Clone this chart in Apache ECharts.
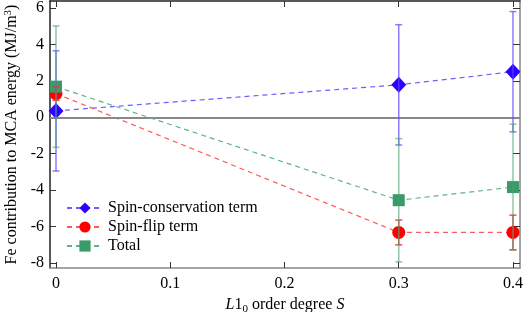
<!DOCTYPE html>
<html><head><meta charset="utf-8">
<script src="https://cdn.jsdelivr.net/npm/echarts@6/dist/echarts.min.js"></script>
<style>html,body{margin:0;padding:0;background:#fff}#c{width:523px;height:312px}</style>
</head><body><div id="c"></div>
<script>
var xValues = [0, 0.3, 0.4];
var spinCons = [0.35, 1.78, 2.5];
var spinConsErr = [3.3, 3.3, 3.3];
var spinFlip = [1.3, -6.32, -6.32];
var spinFlipErr = [0.37, 0.68, 0.95];
var total = [1.68, -4.55, -3.83];
var totalErr = [3.33, 3.38, 3.45];
var xTicks = [0, 0.1, 0.2, 0.3, 0.4];
var yTicks = [-8, -6, -4, -2, 0, 2, 4, 6];
var names = ['Spin-conservation term', 'Spin-flip term', 'Total'];

var FONT = '"Liberation Serif","Times New Roman",serif';
var XMIN = -0.00525, XMAX = 0.40613, YMIN = -8.27, YMAX = 6.38;

function pts(ys){ return xValues.map(function(x,i){ return [x, ys[i]]; }); }
function errPts(ys, es){ return xValues.map(function(x,i){ return [x, ys[i], es[i]]; }); }
function errRender(color){
  return function(params, api){
    var x = api.value(0), y = api.value(1), e = api.value(2);
    var hi = api.coord([x, y + e]), lo = api.coord([x, y - e]);
    var w = 3.5;
    var st = {stroke: color, lineWidth: 1.5};
    return {type:'group', children:[
      {type:'line', shape:{x1:hi[0],y1:hi[1],x2:lo[0],y2:lo[1]}, style:st},
      {type:'line', shape:{x1:hi[0]-w,y1:hi[1],x2:hi[0]+w,y2:hi[1]}, style:st},
      {type:'line', shape:{x1:lo[0]-w,y1:lo[1],x2:lo[0]+w,y2:lo[1]}, style:st}
    ]};
  };
}
function lineSeries(name, ys, mColor, lColor, symbol, size, z){
  return {name:name, type:'line', data:pts(ys), symbol:symbol, symbolSize:size,
    itemStyle:{color:mColor}, lineStyle:{color:lColor, type:[5,4], width:1.2},
    z:z, animation:false};
}
function errSeries(ys, es, color, z){
  return {type:'custom', data:errPts(ys, es), renderItem:errRender(color),
    encode:{x:0, y:1}, z:z, silent:true, animation:false};
}

var axisCommonX = {
  type:'value', min:XMIN, max:XMAX,
  splitLine:{show:false}
};
var option = {
  backgroundColor:'#fff',
  animation:false,
  grid:{left:50, right:3, top:1, bottom:44, containLabel:false, outerBoundsMode:'none'},
  legend:{
    orient:'vertical', left:66, top:200, padding:0, itemWidth:36, itemHeight:14, itemGap:3,
    data:names, textStyle:{fontFamily:FONT, fontSize:16, color:'#000'}
  },
  xAxis:[
    Object.assign({}, axisCommonX, {
      position:'bottom',
      name:'{i|L}{a|1}{sub|0}{a| order degree }{i|S}', nameLocation:'middle', nameGap:22,
      nameTextStyle:{fontFamily:FONT, fontSize:16, color:'#000',
        rich:{a:{fontFamily:FONT,fontSize:16,color:'#000'}, i:{fontFamily:FONT,fontSize:16,fontStyle:'italic',color:'#000'},
              sub:{fontFamily:FONT,fontSize:11,color:'#000',verticalAlign:'bottom',padding:[8,0,0,0]}}},
      axisLine:{show:true, onZero:false, lineStyle:{color:'#888', width:1.5}},
      axisTick:{show:true, inside:true, length:6, customValues:xTicks, lineStyle:{color:'#333'}},
      axisLabel:{show:true, customValues:xTicks, margin:8, fontFamily:FONT, fontSize:16, color:'#000'}
    }),
    Object.assign({}, axisCommonX, {
      position:'top',
      axisLine:{show:true, onZero:false, lineStyle:{color:'#222', width:1.5}},
      axisTick:{show:true, inside:true, length:6, customValues:xTicks, lineStyle:{color:'#333'}},
      axisLabel:{show:false}
    })
  ],
  yAxis:[
    {type:'value', min:YMIN, max:YMAX, position:'left',
      name:'{a|Fe contribution to MCA energy (MJ/m}{sup|3}{a|)}', nameLocation:'middle', nameGap:24, nameRotate:90,
      nameTextStyle:{fontFamily:FONT, fontSize:16, color:'#000',
        rich:{a:{fontFamily:FONT,fontSize:16,color:'#000'},
              sup:{fontFamily:FONT,fontSize:11,color:'#000',verticalAlign:'top',padding:[0,0,8,0]}}},
      splitLine:{show:false},
      axisLine:{show:true, onZero:false, lineStyle:{color:'#222', width:1.5}},
      axisTick:{show:true, inside:true, length:6, customValues:yTicks, lineStyle:{color:'#333'}},
      axisLabel:{show:true, customValues:yTicks, margin:6, fontFamily:FONT, fontSize:16, color:'#000'}
    },
    {type:'value', min:YMIN, max:YMAX, position:'right',
      splitLine:{show:false},
      axisLine:{show:true, onZero:false, lineStyle:{color:'#888', width:1.5}},
      axisTick:{show:true, inside:true, length:7, customValues:yTicks, lineStyle:{color:'#333'}},
      axisLabel:{show:false}
    }
  ],
  series:[
    {type:'line', data:[], z:1, silent:true,
      markLine:{silent:true, symbol:['none','none'], label:{show:false},
        lineStyle:{color:'#888', width:2, type:'solid'}, data:[{yAxis:0}], animation:false}},
    lineSeries(names[0], spinCons, '#2f00ff', '#6f5cff', 'diamond', [15,16], 3),
    lineSeries(names[1], spinFlip, '#ff0000', '#ff5a5a', 'circle', 13, 4),
    lineSeries(names[2], total, '#3a9a6a', '#5fb48a', 'rect', 12, 5),
    errSeries(spinCons, spinConsErr, 'rgba(90,70,255,0.7)', 6),
    errSeries(spinFlip, spinFlipErr, 'rgba(255,40,40,0.85)', 7),
    errSeries(total, totalErr, 'rgba(70,160,110,0.6)', 8)
  ]
};
var chart = echarts.init(document.getElementById('c'), null, {renderer:'canvas'});
chart.setOption(option);
</script>
</body></html>
